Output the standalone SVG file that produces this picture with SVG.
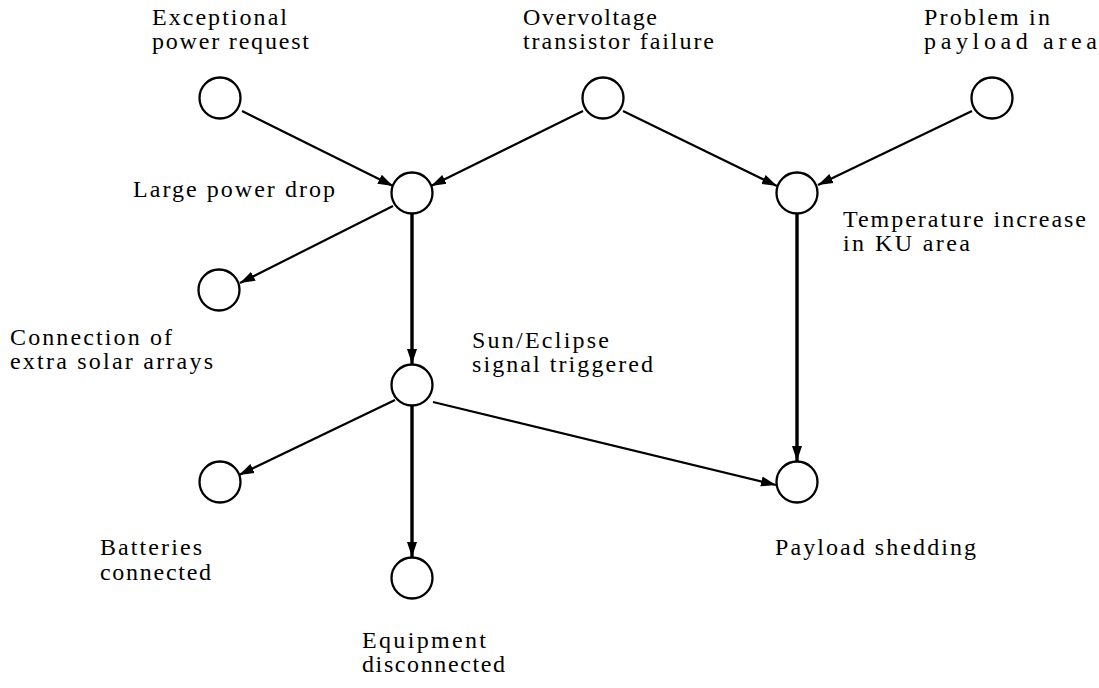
<svg xmlns="http://www.w3.org/2000/svg" width="1099" height="688" viewBox="0 0 1099 688">
<defs>
<style>
.node circle{fill:#fff;stroke:#000;stroke-width:2.3}
.lbl{font-family:"Liberation Serif","DejaVu Serif",serif;font-size:24px;fill:#000}
.e{stroke:#000;stroke-width:2.2;fill:none;marker-end:url(#ah)}
.v{stroke:#000;stroke-width:3.4;fill:none;marker-end:url(#ah)}
</style>
<marker id="ah" markerUnits="userSpaceOnUse" markerWidth="16" markerHeight="12" refX="15" refY="5" orient="auto" viewBox="0 0 16 10">
<path d="M0,0 L15,5 L0,10 Z" fill="#000"/>
</marker>
</defs>
<rect width="1099" height="688" fill="#fff"/>
<g id="connectors">
<line class="e" x1="242" y1="111" x2="393" y2="186"/>
<line class="e" x1="583" y1="111" x2="431" y2="186"/>
<line class="e" x1="623" y1="111" x2="777" y2="186"/>
<line class="e" x1="972" y1="111" x2="818" y2="185"/>
<line class="e" x1="393" y1="206" x2="240" y2="283"/>
<line class="v" x1="412" y1="214" x2="412" y2="364"/>
<line class="v" x1="797" y1="214" x2="797" y2="461"/>
<line class="e" x1="395" y1="400" x2="239" y2="475"/>
<line class="v" x1="412" y1="406" x2="412" y2="557"/>
<line class="e" x1="433" y1="402" x2="776" y2="485"/>
</g>
<g id="n-exceptional" class="node"><circle cx="220" cy="98" r="20.5"/>
<text class="lbl" x="152" y="25" textLength="135" lengthAdjust="spacing">Exceptional</text>
<text class="lbl" x="152" y="49" textLength="157" lengthAdjust="spacing">power request</text></g>
<g id="n-overvoltage" class="node"><circle cx="603" cy="98" r="20.5"/>
<text class="lbl" x="523" y="25" textLength="134" lengthAdjust="spacing">Overvoltage</text>
<text class="lbl" x="523" y="49" textLength="191" lengthAdjust="spacing">transistor failure</text></g>
<g id="n-problem" class="node"><circle cx="992" cy="98" r="20.5"/>
<text class="lbl" x="924" y="25" textLength="126" lengthAdjust="spacing">Problem in</text>
<text class="lbl" x="924" y="49" textLength="173" lengthAdjust="spacing">payload area</text></g>
<g id="n-largepower" class="node"><circle cx="412" cy="193" r="20.5"/>
<text class="lbl" x="133" y="197" textLength="202" lengthAdjust="spacing">Large power drop</text></g>
<g id="n-temperature" class="node"><circle cx="797" cy="193" r="20.5"/>
<text class="lbl" x="843" y="227" textLength="243" lengthAdjust="spacing">Temperature increase</text>
<text class="lbl" x="843" y="251" textLength="127" lengthAdjust="spacing">in KU area</text></g>
<g id="n-connection" class="node"><circle cx="219" cy="290" r="20.5"/>
<text class="lbl" x="10" y="345" textLength="162" lengthAdjust="spacing">Connection of</text>
<text class="lbl" x="10" y="369" textLength="203" lengthAdjust="spacing">extra solar arrays</text></g>
<g id="n-sun" class="node"><circle cx="412" cy="385" r="20.5"/>
<text class="lbl" x="472" y="348" textLength="137" lengthAdjust="spacing">Sun/Eclipse</text>
<text class="lbl" x="472" y="372" textLength="181" lengthAdjust="spacing">signal triggered</text></g>
<g id="n-batteries" class="node"><circle cx="220" cy="482" r="20.5"/>
<text class="lbl" x="100" y="555" textLength="102" lengthAdjust="spacing">Batteries</text>
<text class="lbl" x="100" y="580" textLength="111" lengthAdjust="spacing">connected</text></g>
<g id="n-payload" class="node"><circle cx="797" cy="482" r="20.5"/>
<text class="lbl" x="775" y="555" textLength="201" lengthAdjust="spacing">Payload shedding</text></g>
<g id="n-equipment" class="node"><circle cx="412" cy="578" r="20.5"/>
<text class="lbl" x="362" y="648" textLength="124" lengthAdjust="spacing">Equipment</text>
<text class="lbl" x="362" y="672" textLength="143" lengthAdjust="spacing">disconnected</text></g>
</svg>
